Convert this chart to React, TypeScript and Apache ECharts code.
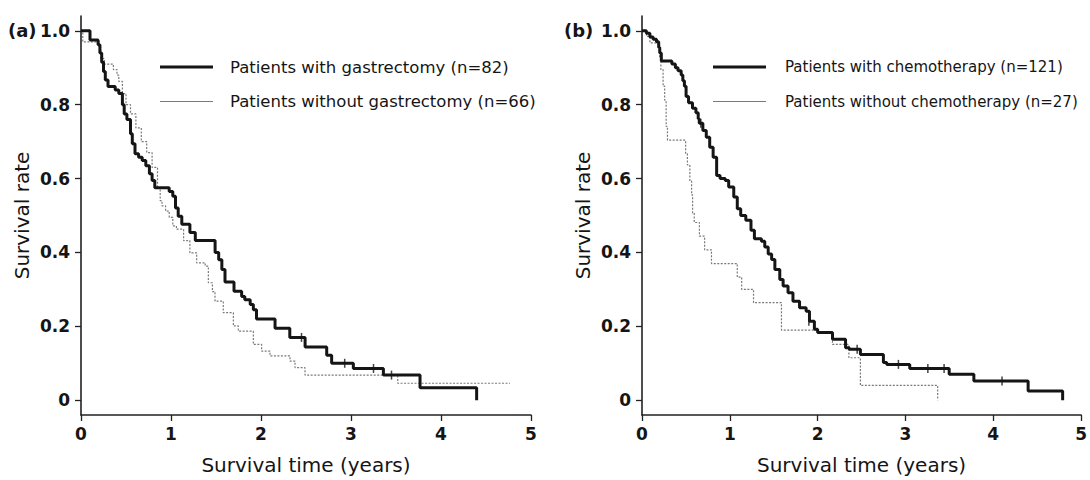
import React, { useEffect, useRef } from "react";
import * as echarts from "echarts";

// ---- data ----
const timeTicks = [0, 1, 2, 3, 4, 5];
const rateTicks = [0, 0.2, 0.4, 0.6, 0.8, 1.0];
const panelLabels = ["(a)", "(b)"];
const xTitle = "Survival time (years)";
const yTitle = "Survival rate";
const legendA = ["Patients with gastrectomy (n=82)", "Patients without gastrectomy (n=66)"];
const legendB = ["Patients with chemotherapy (n=121)", "Patients without chemotherapy (n=27)"];

// Panel (a): with gastrectomy (thick)
const withGastrectomy: [number, number][] = [
  [0, 1], [0.1, 0.975], [0.19, 0.962], [0.21, 0.94], [0.23, 0.915], [0.25, 0.89], [0.27, 0.867],
  [0.3, 0.849], [0.38, 0.84], [0.42, 0.83], [0.46, 0.8], [0.48, 0.775], [0.51, 0.76], [0.55, 0.721],
  [0.57, 0.694], [0.6, 0.667], [0.64, 0.658], [0.68, 0.649], [0.72, 0.635], [0.76, 0.613], [0.79, 0.595],
  [0.82, 0.575], [0.98, 0.565], [1.02, 0.552], [1.05, 0.52], [1.08, 0.498], [1.12, 0.476], [1.21, 0.454],
  [1.27, 0.432], [1.49, 0.4], [1.53, 0.38], [1.565, 0.354], [1.6, 0.32], [1.7, 0.295], [1.785, 0.281],
  [1.82, 0.272], [1.88, 0.259], [1.915, 0.245], [1.95, 0.22], [2.156, 0.195], [2.32, 0.17], [2.49, 0.144],
  [2.73, 0.122], [2.785, 0.1], [3.026, 0.086], [3.36, 0.068], [3.767, 0.034], [4.396, 0.0],
];
const withGastrectomyCensored: [number, number][] = [
  [2.45, 0.17], [2.93, 0.1], [3.25, 0.086], [3.45, 0.068],
];
// Panel (a): without gastrectomy (thin grey)
const withoutGastrectomy: [number, number][] = [
  [0, 1], [0.02, 0.97], [0.2, 0.955], [0.22, 0.925], [0.26, 0.91], [0.36, 0.895], [0.4, 0.88],
  [0.42, 0.863], [0.46, 0.83], [0.5, 0.8], [0.55, 0.775], [0.61, 0.737], [0.67, 0.7], [0.73, 0.67],
  [0.79, 0.63], [0.85, 0.575], [0.88, 0.54], [0.9, 0.526], [0.94, 0.512], [0.98, 0.495], [1.02, 0.472],
  [1.06, 0.463], [1.14, 0.432], [1.21, 0.399], [1.285, 0.372], [1.38, 0.363], [1.415, 0.318],
  [1.46, 0.294], [1.489, 0.268], [1.581, 0.237], [1.693, 0.201], [1.748, 0.187], [1.915, 0.151],
  [2.007, 0.133], [2.1, 0.12], [2.322, 0.106], [2.378, 0.088], [2.489, 0.068], [3.519, 0.046], [4.767, 0.046],
];

// Panel (b): with chemotherapy (thick)
const withChemo: [number, number][] = [
  [0, 1], [0.05, 0.993], [0.09, 0.983], [0.127, 0.977], [0.165, 0.97], [0.19, 0.955], [0.202, 0.94],
  [0.22, 0.918], [0.34, 0.91], [0.38, 0.9], [0.41, 0.892], [0.446, 0.88], [0.465, 0.865], [0.483, 0.85],
  [0.502, 0.822], [0.53, 0.805], [0.575, 0.79], [0.614, 0.778], [0.64, 0.762], [0.652, 0.75], [0.693, 0.73],
  [0.732, 0.712], [0.771, 0.685], [0.81, 0.658], [0.85, 0.608], [0.889, 0.6], [0.948, 0.595], [0.987, 0.577],
  [1.045, 0.55], [1.085, 0.518], [1.124, 0.5], [1.182, 0.487], [1.241, 0.46], [1.28, 0.437], [1.36, 0.43],
  [1.398, 0.415], [1.437, 0.396], [1.476, 0.381], [1.513, 0.354], [1.569, 0.327], [1.607, 0.309],
  [1.663, 0.291], [1.719, 0.268], [1.794, 0.25], [1.869, 0.241], [1.907, 0.214], [1.963, 0.192], [2.0, 0.183],
  [2.169, 0.165], [2.318, 0.142], [2.36, 0.138], [2.487, 0.124], [2.749, 0.102], [2.787, 0.097],
  [3.049, 0.086], [3.498, 0.07], [3.779, 0.052], [4.397, 0.025], [4.79, 0.0],
];
const withChemoCensored: [number, number][] = [
  [0.67, 0.75], [1.9, 0.214], [2.45, 0.138], [2.92, 0.097], [3.255, 0.086], [3.44, 0.086], [4.1, 0.052],
];
// Panel (b): without chemotherapy (thin grey)
const withoutChemo: [number, number][] = [
  [0, 1], [0.05, 0.985], [0.09, 0.967], [0.2, 0.93], [0.215, 0.895], [0.24, 0.85], [0.258, 0.812],
  [0.275, 0.741], [0.29, 0.704], [0.497, 0.667], [0.517, 0.637], [0.545, 0.593], [0.565, 0.556],
  [0.576, 0.507], [0.595, 0.481], [0.654, 0.444], [0.713, 0.407], [0.791, 0.37], [1.085, 0.333],
  [1.135, 0.3], [1.27, 0.264], [1.588, 0.19], [2.0, 0.181], [2.169, 0.151], [2.356, 0.115],
  [2.487, 0.04], [3.367, 0.0],
];

const FONT = "'DejaVu Sans', 'Noto Sans', sans-serif";
const INK = "#151515";
const GREY = "#7a7a7a";

function axisPair(gridIndex: number) {
  const common = {
    gridIndex,
    type: "value" as const,
    splitLine: { show: false },
    axisLine: { show: true, onZero: false, lineStyle: { color: "#222", width: 1.6 } },
    axisTick: { show: true, length: 6, lineStyle: { color: "#222", width: 1.3 } },
  };
  const x = {
    ...common,
    min: timeTicks[0],
    max: timeTicks[timeTicks.length - 1],
    interval: 1,
    axisLabel: { fontFamily: FONT, fontSize: 17, fontWeight: "bold", color: INK, margin: 10 },
    name: xTitle,
    nameLocation: "middle",
    nameGap: 40,
    nameTextStyle: { fontFamily: FONT, fontSize: 20, color: INK },
  };
  const y = {
    ...common,
    min: -0.04,
    max: 1.04,
    axisTick: { ...common.axisTick, customValues: rateTicks },
    axisLabel: {
      fontFamily: FONT,
      fontSize: 17,
      fontWeight: "bold",
      color: INK,
      margin: 11,
      customValues: rateTicks,
      formatter: (v: number) => (v === 0 ? "0" : v.toFixed(1)),
    },
    name: yTitle,
    nameLocation: "middle",
    nameGap: 49,
    nameTextStyle: { fontFamily: FONT, fontSize: 20, color: INK },
  };
  return { x, y };
}

function curve(data: [number, number][], idx: number, thick: boolean) {
  return {
    type: "line",
    xAxisIndex: idx,
    yAxisIndex: idx,
    step: "end",
    showSymbol: false,
    symbol: "none",
    data,
    z: thick ? 3 : 2,
    lineStyle: thick
      ? { color: INK, width: 3 }
      : { color: GREY, width: 1.2, type: [2, 1.5] },
  };
}

function censor(data: [number, number][], idx: number) {
  return {
    type: "scatter",
    xAxisIndex: idx,
    yAxisIndex: idx,
    symbol: "rect",
    symbolSize: [1.5, 9],
    itemStyle: { color: INK },
    data,
    z: 4,
  };
}

function legendGraphics(x0: number, textX: number, labels: string[], fontSize: number) {
  const rows = [67, 101.5];
  const out: any[] = [];
  rows.forEach((y, i) => {
    out.push({
      type: "line",
      shape: { x1: x0, y1: y, x2: x0 + 53, y2: y },
      style: i === 0 ? { stroke: INK, lineWidth: 3 } : { stroke: GREY, lineWidth: 1.2 },
    });
    out.push({
      type: "text",
      x: textX,
      y,
      style: {
        text: labels[i],
        fontFamily: FONT,
        fontSize,
        fill: INK,
        verticalAlign: "middle",
        align: "left",
      },
    });
  });
  return out;
}

export default function App() {
  const ref = useRef<HTMLDivElement>(null);
  useEffect(() => {
    if (!ref.current) return;
    const chart = echarts.init(ref.current, null, { renderer: "svg" });
    const a = axisPair(0);
    const b = axisPair(1);
    chart.setOption({
      animation: false,
      backgroundColor: "#ffffff",
      grid: [
        { left: 81, top: 16, width: 450, height: 400 },
        { left: 642, top: 16, width: 445, height: 400 },
      ],
      xAxis: [a.x, b.x],
      yAxis: [a.y, b.y],
      series: [
        curve(withoutGastrectomy, 0, false),
        curve(withGastrectomy, 0, true),
        censor(withGastrectomyCensored, 0),
        curve(withoutChemo, 1, false),
        curve(withChemo, 1, true),
        censor(withChemoCensored, 1),
      ],
      graphic: [
        {
          type: "text",
          x: 8,
          y: 30,
          style: { text: panelLabels[0], fontFamily: FONT, fontSize: 18, fontWeight: "bold", fill: INK, verticalAlign: "middle" },
        },
        {
          type: "text",
          x: 564,
          y: 30,
          style: { text: panelLabels[1], fontFamily: FONT, fontSize: 18, fontWeight: "bold", fill: INK, verticalAlign: "middle" },
        },
        ...legendGraphics(160, 230, legendA, 16.5),
        ...legendGraphics(713, 785, legendB, 15),
      ],
    });
    return () => chart.dispose();
  }, []);
  return (
    <div
      ref={ref}
      style={{ position: "fixed", left: 0, top: 0, width: 1090, height: 480, background: "#fff" }}
    />
  );
}
